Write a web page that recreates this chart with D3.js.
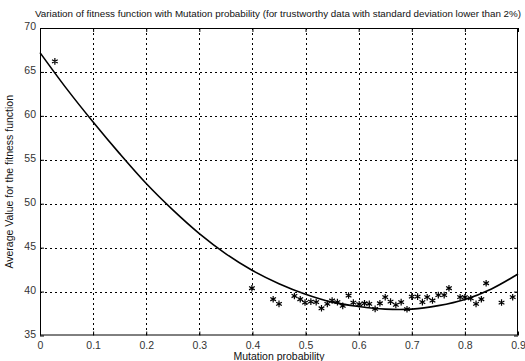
<!DOCTYPE html>
<html>
<head>
<meta charset="utf-8">
<script src="https://cdn.jsdelivr.net/npm/d3@7"></script>
<style>
  html, body { margin: 0; padding: 0; background: #fff; }
  svg { display: block; font-family: Arial, "Liberation Sans", sans-serif; }
</style>
</head>
<body>
<svg id="chart" width="525" height="361"></svg>
<script>
// Measured averages of the fitness function (trustworthy runs only)
const sampleX = [0.028, 0.399, 0.439, 0.450, 0.479, 0.490, 0.499, 0.510, 0.520, 0.530,
  0.541, 0.550, 0.560, 0.570, 0.581, 0.590, 0.601, 0.611, 0.620, 0.631,
  0.640, 0.650, 0.660, 0.670, 0.680, 0.691, 0.700, 0.711, 0.720, 0.729,
  0.739, 0.750, 0.761, 0.770, 0.791, 0.800, 0.811, 0.821, 0.831, 0.840,
  0.869, 0.890];
const sampleY = [66.2, 40.38, 39.13, 38.6, 39.5, 39.13, 38.75, 38.86, 38.8, 38.1,
  38.6, 38.98, 38.8, 38.37, 39.55, 38.75, 38.56, 38.67, 38.6, 38.03,
  38.67, 39.36, 38.86, 38.48, 38.8, 37.99, 39.43, 39.43, 38.8, 39.36,
  38.98, 39.6, 39.6, 40.38, 39.36, 39.36, 39.24, 38.6, 39.13, 40.95,
  38.75, 39.36];

// Fitted trend curve
const fitX = [0, 0.05, 0.1, 0.15, 0.2, 0.25, 0.3, 0.35, 0.4, 0.45,
  0.5, 0.55, 0.6, 0.65, 0.7, 0.75, 0.8, 0.85, 0.9];
const fitY = [67.2, 63.1, 59.3, 55.7, 52.3, 49.3, 46.6, 44.3, 42.4, 40.9,
  39.7, 38.8, 38.3, 38.0, 38.0, 38.4, 39.1, 40.3, 42.0];

const xTicks = [0, 0.1, 0.2, 0.3, 0.4, 0.5, 0.6, 0.7, 0.8, 0.9];
const yTicks = [35, 40, 45, 50, 55, 60, 65, 70];

const titleText = "Variation of fitness function with Mutation probability (for trustworthy data with standard deviation lower than 2%)";
const xLabel = "Mutation probability";
const yLabel = "Average Value for the fitness function";

const margin = { left: 40, top: 28, right: 518, bottom: 335.5 };
const svg = d3.select("#chart");

const x = d3.scaleLinear().domain([0, 0.9]).range([margin.left, margin.right]);
const y = d3.scaleLinear().domain([35, 70]).range([margin.bottom, margin.top]);

// dotted grid
const grid = svg.append("g").attr("stroke", "#000").attr("stroke-width", 1)
  .attr("stroke-dasharray", "2,3").attr("shape-rendering", "crispEdges");
grid.selectAll("line.v").data(xTicks.slice(1, -1)).join("line")
  .attr("x1", d => Math.round(x(d)) + 0.5).attr("x2", d => Math.round(x(d)) + 0.5)
  .attr("y1", margin.top).attr("y2", margin.bottom);
grid.selectAll("line.h").data(yTicks.slice(1, -1)).join("line")
  .attr("y1", d => Math.round(y(d)) + 0.5).attr("y2", d => Math.round(y(d)) + 0.5)
  .attr("x1", margin.left).attr("x2", margin.right);

// axes with inward ticks
const tickColor = "#000";
const xAxis = svg.append("g").attr("transform", `translate(0,${margin.bottom})`)
  .call(d3.axisBottom(x).tickValues(xTicks).tickFormat(d => d === 0 ? "0" : d3.format(".1f")(d)).tickSizeInner(-4).tickSizeOuter(0).tickPadding(6));
const xAxisTop = svg.append("g").attr("transform", `translate(0,${margin.top})`)
  .call(d3.axisTop(x).tickValues(xTicks).tickFormat("").tickSizeInner(-4).tickSizeOuter(0));
const yAxis = svg.append("g").attr("transform", `translate(${margin.left},0)`)
  .call(d3.axisLeft(y).tickValues(yTicks).tickSizeInner(-4).tickSizeOuter(0).tickPadding(4));
const yAxisRight = svg.append("g").attr("transform", `translate(${margin.right},0)`)
  .call(d3.axisRight(y).tickValues(yTicks).tickFormat("").tickSizeInner(-4).tickSizeOuter(0));

[xAxis, xAxisTop, yAxis, yAxisRight].forEach(g => {
  g.select(".domain").remove();
  g.selectAll("line").attr("stroke", tickColor);
  g.selectAll("text").attr("fill", "#333").attr("font-size", 10.5)
    .attr("font-family", "Arial, 'Liberation Sans', sans-serif");
});
yAxis.selectAll("text").attr("dy", "0.15em");

// frame
svg.append("rect")
  .attr("x", margin.left + 0.5).attr("y", margin.top + 0.5)
  .attr("width", margin.right - margin.left - 1).attr("height", margin.bottom - margin.top - 1)
  .attr("fill", "none").attr("stroke", "#000").attr("stroke-width", 1);

// fitted curve
const line = d3.line().x((d, i) => x(fitX[i])).y(d => y(d)).curve(d3.curveCatmullRom);
svg.append("path").datum(fitY)
  .attr("d", line).attr("fill", "none").attr("stroke", "#000").attr("stroke-width", 1.6);

// asterisk markers
const star = d3.symbol().type(d3.symbolAsterisk).size(30);
svg.append("g").selectAll("path").data(sampleX).join("path")
  .attr("transform", (d, i) => `translate(${x(d)},${y(sampleY[i])})`)
  .attr("d", star).attr("fill", "none").attr("stroke", "#000").attr("stroke-width", 1.2);

// title and labels
svg.append("text").attr("x", 278).attr("y", 17).attr("text-anchor", "middle")
  .attr("font-size", 9.5).attr("fill", "#111")
  .attr("textLength", 486).attr("lengthAdjust", "spacingAndGlyphs")
  .text(titleText);
svg.append("text").attr("x", (margin.left + margin.right) / 2).attr("y", 360)
  .attr("text-anchor", "middle").attr("font-size", 10.5).attr("fill", "#111")
  .text(xLabel);
svg.append("text")
  .attr("transform", `translate(13,${(margin.top + margin.bottom) / 2}) rotate(-90)`)
  .attr("text-anchor", "middle").attr("font-size", 10.5).attr("fill", "#111")
  .text(yLabel);
</script>
</body>
</html>
